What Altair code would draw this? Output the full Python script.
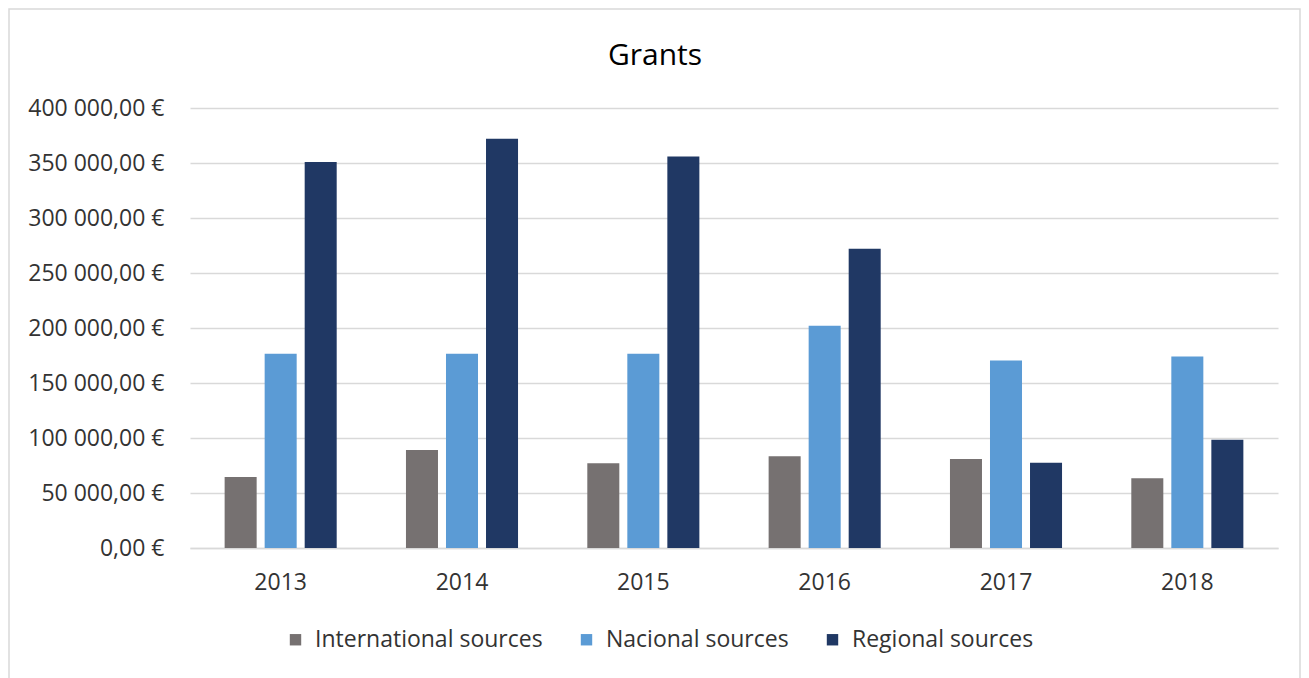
import altair as alt
import pandas as pd

years = ["2013", "2014", "2015", "2016", "2017", "2018"]
series = ["International sources", "Nacional sources", "Regional sources"]
international = [64500, 89000, 77000, 83500, 81000, 63500]
nacional = [176500, 176500, 176500, 202000, 170500, 174000]
regional = [351000, 372000, 356000, 272000, 77500, 98500]
colors = ["#767171", "#5B9BD5", "#203864"]
title_text = "Grants"

rows = []
for i, y in enumerate(years):
    rows.append({"year": y, "source": series[0], "value": international[i]})
    rows.append({"year": y, "source": series[1], "value": nacional[i]})
    rows.append({"year": y, "source": series[2], "value": regional[i]})
df = pd.DataFrame(rows)

FONT = "Open Sans"
TXT = "#333333"
W, H = 1088, 440

bars = alt.Chart(df).mark_bar().encode(
    x=alt.X("year:N", title=None, sort=years,
            scale=alt.Scale(paddingInner=0.382, paddingOuter=0.191),
            axis=alt.Axis(labelAngle=0, labelFontSize=23, labelFont=FONT, labelColor=TXT,
                          ticks=False, domainColor="#d9d9d9", domainWidth=1.5, labelPadding=23)),
    xOffset=alt.XOffset("source:N", sort=series,
                        scale=alt.Scale(paddingInner=0.2, paddingOuter=0)),
    y=alt.Y("value:Q", title=None,
            scale=alt.Scale(domain=[0, 400000]),
            axis=alt.Axis(values=[0, 50000, 100000, 150000, 200000, 250000, 300000, 350000, 400000],
                          labelExpr="datum.value == 0 ? '0,00 €' : format(datum.value/1000, 'd') + ' 000,00 €'",
                          labelFontSize=23, labelFont=FONT, labelColor=TXT,
                          ticks=False, domain=False, gridColor="#d9d9d9", gridWidth=1.5,
                          labelPadding=26)),
    color=alt.Color("source:N", sort=series,
                    scale=alt.Scale(domain=series, range=colors),
                    legend=alt.Legend(title=None, orient="none", direction="horizontal",
                                      legendX=94, legendY=520,
                                      symbolType="square", symbolSize=130, symbolStrokeWidth=0,
                                      labelFontSize=23, labelFont=FONT, labelColor=TXT,
                                      labelLimit=0, columnPadding=32, labelOffset=8)),
)

frame = alt.Chart(pd.DataFrame({"a": [0]})).mark_rect(
    filled=False, stroke="#d9d9d9", strokeWidth=1.5
).encode(
    x=alt.value(-181), x2=alt.value(W + 22),
    y=alt.value(-99), y2=alt.value(H + 160),
)

title = alt.Chart(pd.DataFrame({"t": [title_text]})).mark_text(
    font=FONT, fontSize=30, color="#000000", align="center", baseline="alphabetic"
).encode(
    text="t:N", x=alt.value(W / 2 - 79), y=alt.value(-43),
)

chart = alt.layer(frame, bars, title).properties(
    width=W, height=H,
    autosize=alt.AutoSizeParams(type="none"),
    padding={"left": 182, "top": 100, "right": 23, "bottom": 130},
).configure_view(stroke=None)

chart.save("out.html", embed_options={"renderer": "svg", "actions": False})
